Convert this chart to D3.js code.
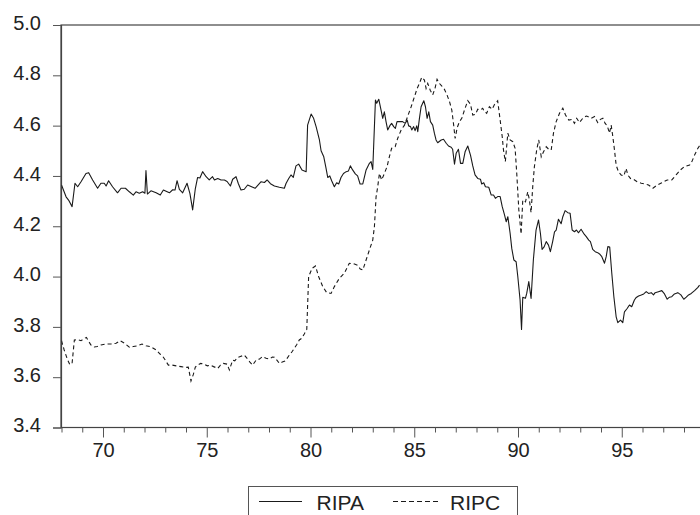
<!DOCTYPE html>
<html>
<head>
<meta charset="utf-8">
<script src="https://cdn.jsdelivr.net/npm/d3@7"></script>
<style>
  html, body { margin: 0; padding: 0; background: #fff; }
  svg { display: block; }
  text { font-family: "Liberation Sans", Arial, Helvetica, sans-serif; fill: #222; }
</style>
</head>
<body>
<svg id="chart" width="700" height="515"></svg>
<script>
// ---- data ----
const seriesNames = ["RIPA", "RIPC"];
const yTickValues = [3.4, 3.6, 3.8, 4.0, 4.2, 4.4, 4.6, 4.8, 5.0];
const xMajorTicks = [70, 75, 80, 85, 90, 95];
const xMinorTicks = [68,69,71,72,73,74,76,77,78,79,81,82,83,84,86,87,88,89,91,92,93,94,96,97,98];

const ripaYears = [68.00,68.22,68.34,68.51,68.65,68.78,68.94,69.18,69.31,69.50,69.74,69.90,70.06,70.15,70.27,70.46,70.70,70.87,71.08,71.27,71.46,71.59,71.75,71.91,72.02,72.07,72.14,72.31,72.56,72.76,72.91,73.20,73.36,73.47,73.57,73.68,73.84,74.05,74.19,74.32,74.45,74.56,74.67,74.80,74.97,75.12,75.28,75.37,75.53,75.69,75.85,75.98,76.14,76.25,76.41,76.52,76.65,76.81,76.97,77.16,77.33,77.62,77.78,77.91,78.07,78.26,78.50,78.74,78.82,78.95,79.06,79.17,79.30,79.43,79.59,79.79,79.86,80.03,80.15,80.27,80.43,80.51,80.64,80.75,80.83,80.93,81.02,81.15,81.26,81.36,81.47,81.59,81.72,81.83,81.92,82.03,82.16,82.27,82.39,82.52,82.68,82.84,82.92,83.00,83.13,83.19,83.29,83.40,83.48,83.56,83.64,83.72,83.84,83.91,84.01,84.09,84.17,84.28,84.44,84.56,84.66,84.73,84.82,84.88,84.97,85.04,85.12,85.17,85.25,85.33,85.46,85.54,85.62,85.70,85.78,85.89,85.97,86.05,86.13,86.30,86.41,86.54,86.65,86.78,86.85,86.94,87.02,87.13,87.23,87.34,87.45,87.58,87.71,87.82,87.93,88.06,88.19,88.25,88.35,88.43,88.59,88.71,88.82,88.91,89.02,89.14,89.24,89.35,89.43,89.51,89.62,89.70,89.80,89.91,89.99,90.10,90.17,90.23,90.36,90.42,90.52,90.63,90.74,90.87,90.99,91.08,91.16,91.26,91.36,91.47,91.56,91.67,91.76,91.84,91.95,92.08,92.16,92.27,92.40,92.51,92.61,92.72,92.82,92.91,93.04,93.16,93.29,93.41,93.49,93.60,93.72,93.84,93.93,94.04,94.17,94.25,94.33,94.42,94.52,94.62,94.73,94.81,94.94,95.05,95.13,95.26,95.37,95.48,95.61,95.70,95.81,95.94,96.06,96.18,96.29,96.42,96.53,96.61,96.77,96.93,97.06,97.19,97.30,97.41,97.54,97.70,97.85,97.99,98.11,98.22,98.35,98.51,98.67,98.75];
const ripaValues = [4.364,4.317,4.304,4.278,4.371,4.357,4.377,4.410,4.413,4.384,4.351,4.371,4.371,4.360,4.381,4.357,4.333,4.351,4.351,4.337,4.324,4.337,4.331,4.337,4.331,4.421,4.328,4.341,4.333,4.324,4.344,4.333,4.345,4.344,4.381,4.347,4.333,4.371,4.330,4.265,4.350,4.394,4.392,4.417,4.397,4.384,4.397,4.384,4.390,4.384,4.384,4.378,4.360,4.387,4.397,4.370,4.344,4.347,4.364,4.357,4.351,4.377,4.374,4.384,4.369,4.360,4.355,4.351,4.370,4.390,4.404,4.394,4.440,4.447,4.424,4.417,4.602,4.646,4.629,4.596,4.543,4.500,4.476,4.430,4.394,4.400,4.381,4.357,4.373,4.368,4.394,4.410,4.417,4.420,4.440,4.424,4.408,4.400,4.368,4.368,4.424,4.450,4.457,4.426,4.702,4.689,4.705,4.662,4.629,4.655,4.616,4.583,4.602,4.609,4.596,4.589,4.616,4.616,4.616,4.609,4.622,4.599,4.596,4.583,4.596,4.580,4.599,4.576,4.629,4.675,4.699,4.675,4.629,4.655,4.616,4.602,4.570,4.543,4.532,4.543,4.546,4.530,4.519,4.514,4.506,4.447,4.490,4.506,4.450,4.450,4.496,4.519,4.483,4.440,4.404,4.390,4.387,4.368,4.373,4.357,4.355,4.324,4.324,4.311,4.318,4.318,4.278,4.245,4.218,4.238,4.172,4.112,4.066,4.059,4.000,3.907,3.790,3.918,3.914,3.933,3.980,3.913,4.066,4.185,4.225,4.172,4.108,4.118,4.139,4.125,4.099,4.139,4.178,4.185,4.228,4.210,4.238,4.262,4.254,4.252,4.185,4.178,4.185,4.174,4.188,4.172,4.159,4.145,4.139,4.108,4.099,4.095,4.090,4.079,4.053,4.079,4.119,4.117,4.013,3.920,3.840,3.817,3.827,3.817,3.860,3.873,3.887,3.880,3.907,3.917,3.923,3.927,3.931,3.940,3.933,3.936,3.927,3.936,3.940,3.944,3.931,3.910,3.918,3.920,3.931,3.936,3.927,3.910,3.918,3.927,3.933,3.944,3.957,3.966];

const ripcYears = [68.00,68.13,68.28,68.40,68.51,68.62,68.78,68.94,69.10,69.20,69.29,69.42,69.58,69.73,69.90,70.15,70.39,70.63,70.82,71.03,71.27,71.46,71.67,71.88,72.07,72.31,72.56,72.75,72.87,73.00,73.15,73.34,73.53,73.76,74.00,74.11,74.24,74.35,74.45,74.56,74.71,74.85,75.03,75.17,75.33,75.53,75.66,75.80,75.98,76.09,76.25,76.35,76.49,76.65,76.81,76.97,77.08,77.21,77.38,77.54,77.69,77.86,78.02,78.16,78.26,78.38,78.50,78.64,78.79,78.98,79.10,79.22,79.34,79.46,79.58,79.70,79.82,79.91,80.08,80.24,80.39,80.59,80.78,80.99,81.15,81.39,81.63,81.87,82.12,82.27,82.40,82.52,82.68,82.84,83.00,83.08,83.16,83.24,83.32,83.43,83.56,83.69,83.80,83.91,84.08,84.20,84.37,84.53,84.68,84.85,85.01,85.14,85.25,85.36,85.49,85.57,85.65,85.77,85.89,86.00,86.10,86.21,86.32,86.45,86.58,86.70,86.81,86.90,86.97,87.07,87.18,87.29,87.42,87.58,87.71,87.82,87.95,88.06,88.19,88.30,88.38,88.49,88.62,88.75,88.86,89.02,89.14,89.24,89.30,89.39,89.51,89.62,89.75,89.86,89.94,90.04,90.15,90.23,90.36,90.47,90.55,90.63,90.71,90.79,90.90,91.00,91.12,91.23,91.36,91.48,91.60,91.71,91.84,92.00,92.16,92.29,92.45,92.61,92.72,92.83,92.96,93.12,93.29,93.36,93.53,93.69,93.84,93.97,94.09,94.20,94.30,94.41,94.49,94.57,94.65,94.73,94.84,94.97,95.10,95.21,95.29,95.42,95.58,95.74,95.94,96.10,96.29,96.50,96.71,96.93,97.19,97.41,97.62,97.83,98.02,98.27,98.38,98.51,98.67,98.75];
const ripcValues = [3.745,3.708,3.672,3.650,3.655,3.748,3.749,3.745,3.754,3.758,3.745,3.728,3.720,3.722,3.728,3.732,3.732,3.735,3.745,3.735,3.719,3.722,3.725,3.732,3.725,3.721,3.708,3.692,3.684,3.668,3.648,3.648,3.645,3.642,3.639,3.640,3.585,3.610,3.640,3.648,3.655,3.652,3.645,3.648,3.642,3.635,3.648,3.655,3.652,3.629,3.668,3.665,3.678,3.683,3.688,3.672,3.660,3.648,3.668,3.672,3.682,3.675,3.672,3.680,3.679,3.668,3.655,3.660,3.665,3.688,3.700,3.715,3.730,3.748,3.755,3.772,3.790,4.000,4.033,4.042,4.000,3.960,3.936,3.933,3.960,3.993,4.013,4.053,4.050,4.045,4.030,4.026,4.066,4.106,4.145,4.198,4.317,4.357,4.410,4.384,4.410,4.437,4.476,4.510,4.516,4.549,4.583,4.602,4.636,4.675,4.715,4.748,4.768,4.792,4.781,4.748,4.768,4.741,4.722,4.748,4.784,4.768,4.758,4.745,4.722,4.695,4.662,4.602,4.549,4.592,4.616,4.629,4.662,4.699,4.685,4.642,4.645,4.665,4.662,4.669,4.656,4.649,4.675,4.665,4.683,4.699,4.622,4.556,4.503,4.457,4.570,4.543,4.536,4.510,4.410,4.265,4.169,4.304,4.297,4.337,4.304,4.254,4.357,4.437,4.503,4.543,4.476,4.496,4.516,4.506,4.503,4.570,4.616,4.649,4.669,4.642,4.622,4.625,4.609,4.629,4.612,4.629,4.638,4.636,4.629,4.636,4.612,4.625,4.629,4.609,4.599,4.570,4.602,4.556,4.503,4.443,4.417,4.404,4.400,4.430,4.404,4.390,4.386,4.377,4.371,4.368,4.364,4.351,4.364,4.373,4.384,4.384,4.404,4.424,4.437,4.443,4.457,4.483,4.510,4.520];

// ---- layout ----
const svg = d3.select("#chart");
const plotLeft = 61.5, plotTop = 25, plotBottom = 427.5, plotRight = 702;
const pxPerYear = 20.75;
const xDomain = [68, 98.8];
const x = d3.scaleLinear().domain(xDomain).range([plotLeft, plotLeft + (xDomain[1] - xDomain[0]) * pxPerYear]);
const y = d3.scaleLinear().domain([3.4, 5.0]).range([plotBottom, plotTop]);

svg.append("defs").append("clipPath").attr("id", "clip")
  .append("rect").attr("x", plotLeft).attr("y", plotTop).attr("width", plotRight - plotLeft).attr("height", plotBottom - plotTop);

const frameColor = "#444";

// frame
svg.append("rect").attr("x", plotLeft - 0.5).attr("y", plotTop).attr("width", plotRight - plotLeft + 1).attr("height", plotBottom - plotTop)
  .attr("fill", "none").attr("stroke", frameColor).attr("stroke-width", 1.2);

// y axis
const yAxis = svg.append("g").attr("transform", `translate(${plotLeft - 0.5},0)`)
  .call(d3.axisLeft(y).tickValues(yTickValues).tickSize(8).tickPadding(12).tickFormat(d3.format(".1f")));
yAxis.select(".domain").attr("stroke", frameColor).attr("stroke-width", 1.2);
yAxis.selectAll(".tick line").attr("stroke", "#555");
yAxis.selectAll(".tick text").attr("font-size", 20).attr("dy", "0.22em")
  .style("font-family", '"Liberation Sans", Arial, sans-serif').attr("fill", "#222");

// x axis major
const xAxis = svg.append("g").attr("transform", `translate(0,${plotBottom})`)
  .call(d3.axisBottom(x).tickValues(xMajorTicks).tickSize(10).tickFormat(d => String(d)));
xAxis.select(".domain").remove();
xAxis.selectAll(".tick line").attr("stroke", "#555");
xAxis.selectAll(".tick text").attr("font-size", 20).attr("y", 29).attr("dy", 0)
  .style("font-family", '"Liberation Sans", Arial, sans-serif').attr("fill", "#222");

// x axis minor
const xMinor = svg.append("g").attr("transform", `translate(0,${plotBottom})`)
  .call(d3.axisBottom(x).tickValues(xMinorTicks).tickSize(5).tickFormat(""));
xMinor.select(".domain").remove();
xMinor.selectAll(".tick line").attr("stroke", "#555");

// lines
const ripa = ripaYears.map((t, i) => ({ t, v: ripaValues[i] }));
const ripc = ripcYears.map((t, i) => ({ t, v: ripcValues[i] }));
const line = d3.line().x(d => x(d.t)).y(d => y(d.v));
const plot = svg.append("g").attr("clip-path", "url(#clip)");
plot.append("path").datum(ripa).attr("d", line).attr("fill", "none")
  .attr("stroke", "#1a1a1a").attr("stroke-width", 1.1).attr("stroke-linejoin", "round");
plot.append("path").datum(ripc).attr("d", line).attr("fill", "none")
  .attr("stroke", "#1a1a1a").attr("stroke-width", 1.1).attr("stroke-dasharray", "4,3");

// legend
const lg = svg.append("g");
lg.append("rect").attr("x", 248.5).attr("y", 486.5).attr("width", 269).attr("height", 40)
  .attr("fill", "#fff").attr("stroke", "#555").attr("stroke-width", 1);
lg.append("line").attr("x1", 259).attr("x2", 302).attr("y1", 501.5).attr("y2", 501.5)
  .attr("stroke", "#1a1a1a").attr("stroke-width", 1.1);
lg.append("text").attr("x", 316.5).attr("y", 510).attr("font-size", 21).text(seriesNames[0]);
lg.append("line").attr("x1", 393).attr("x2", 440).attr("y1", 501.5).attr("y2", 501.5)
  .attr("stroke", "#1a1a1a").attr("stroke-width", 1.1).attr("stroke-dasharray", "5,3");
lg.append("text").attr("x", 450).attr("y", 510).attr("font-size", 21).text(seriesNames[1]);
</script>
</body>
</html>
